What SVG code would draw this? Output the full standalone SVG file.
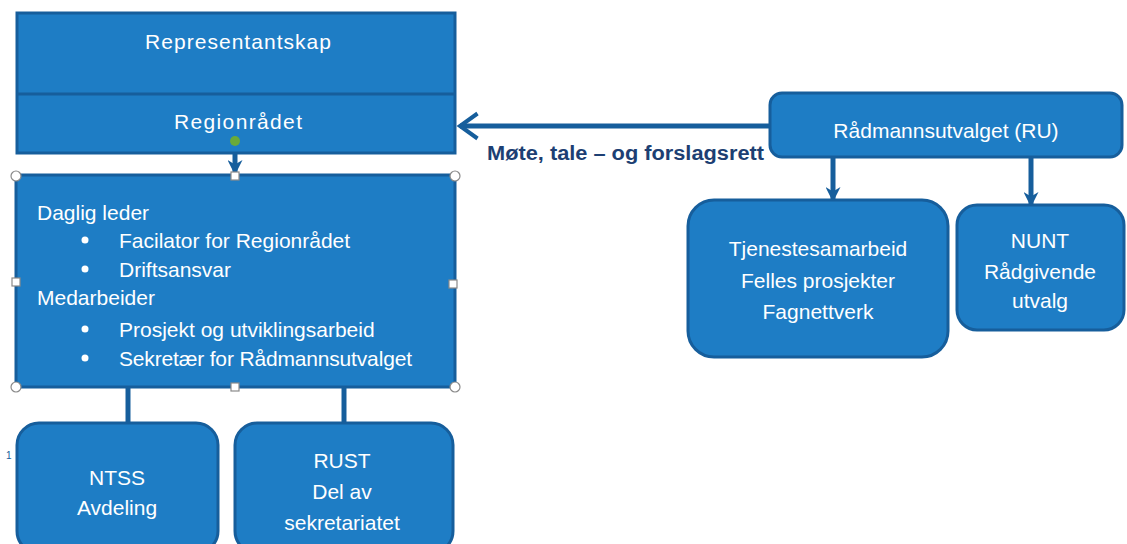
<svg xmlns="http://www.w3.org/2000/svg" width="1127" height="544" viewBox="0 0 1127 544">
<defs>
<style>
.box{fill:#1E7DC5;stroke:#165E9C;stroke-width:3}
.t{font-family:"Liberation Sans",Arial,sans-serif;font-size:21px;fill:#FFFFFF}
.c{text-anchor:middle}
.conn{stroke:#165E9C;stroke-width:5;fill:none}
.h{fill:#FFFFFF;stroke:#8A8A8A;stroke-width:1.2}
.lbl{font-family:"Liberation Sans",Arial,sans-serif;font-size:20px;font-weight:bold;fill:#1D3F73}
</style>
<marker id="ah" viewBox="0 0 10 10" refX="8" refY="5" markerWidth="3" markerHeight="3" orient="auto" markerUnits="strokeWidth">
<path d="M0,0 L10,5 L0,10 L3,5 z" fill="#165E9C"/>
</marker>
<marker id="open" viewBox="0 0 12 12" refX="10" refY="6" markerWidth="6" markerHeight="6" orient="auto" markerUnits="strokeWidth">
<path d="M3,1 L10,6 L3,11" fill="none" stroke="#165E9C" stroke-width="1.6"/>
</marker>
</defs>
<rect width="1127" height="544" fill="#FFFFFF"/>

<g id="connectors">
<line class="conn" x1="235" y1="143" x2="235" y2="172" marker-end="url(#ah)"/>
<line class="conn" x1="770" y1="126" x2="460" y2="126" marker-end="url(#open)"/>
<line class="conn" x1="128" y1="388" x2="128" y2="423"/>
<line class="conn" x1="344" y1="388" x2="344" y2="423"/>
<line class="conn" x1="833" y1="157" x2="833" y2="199" marker-end="url(#ah)"/>
<line class="conn" x1="1031" y1="157" x2="1031" y2="204" marker-end="url(#ah)"/>
<text class="lbl" x="487" y="160" textLength="277" lengthAdjust="spacingAndGlyphs">Møte, tale – og forslagsrett</text>
</g>

<g id="representantskap">
<rect class="box" x="17" y="13" width="438" height="140"/>
<line x1="17" y1="94" x2="455" y2="94" stroke="#165E9C" stroke-width="3"/>
<text class="t c" x="238" y="49" textLength="186" lengthAdjust="spacing">Representantskap</text>
<text class="t c" x="238" y="129" textLength="128" lengthAdjust="spacing">Regionrådet</text>
<circle cx="235" cy="141" r="5" fill="#6AAA3A"/>
</g>

<g id="daglig-leder">
<rect class="box" x="16" y="175" width="439" height="212"/>
<text class="t" x="37" y="220">Daglig leder</text>
<circle cx="85" cy="240" r="3.5" fill="#FFFFFF"/>
<text class="t" x="119" y="248">Facilator for Regionrådet</text>
<circle cx="85" cy="269" r="3.5" fill="#FFFFFF"/>
<text class="t" x="119" y="277">Driftsansvar</text>
<text class="t" x="37" y="305">Medarbeider</text>
<circle cx="85" cy="329" r="3.5" fill="#FFFFFF"/>
<text class="t" x="119" y="337">Prosjekt og utviklingsarbeid</text>
<circle cx="85" cy="358" r="3.5" fill="#FFFFFF"/>
<text class="t" x="119" y="366" textLength="293" lengthAdjust="spacing">Sekretær for Rådmannsutvalget</text>
<circle class="h" cx="16" cy="176" r="5"/>
<circle class="h" cx="455" cy="176" r="5"/>
<circle class="h" cx="16" cy="387" r="5"/>
<circle class="h" cx="455" cy="387" r="5"/>
<rect class="h" x="231" y="172" width="8" height="8"/>
<rect class="h" x="231" y="383" width="8" height="8"/>
<rect class="h" x="12" y="278" width="8" height="8"/>
<rect class="h" x="449" y="280" width="8" height="8"/>
</g>

<g id="ntss">
<rect class="box" x="17" y="423" width="201" height="130" rx="22"/>
<text class="t c" x="117" y="485">NTSS</text>
<text class="t c" x="117" y="515">Avdeling</text>
<text x="6" y="459" font-family="Liberation Sans,Arial,sans-serif" font-size="10" fill="#165E9C">1</text>
</g>

<g id="rust">
<rect class="box" x="235" y="423" width="218" height="130" rx="22"/>
<text class="t c" x="342" y="468">RUST</text>
<text class="t c" x="342" y="499">Del av</text>
<text class="t c" x="342" y="530">sekretariatet</text>
</g>

<g id="radmannsutvalget">
<rect class="box" x="770" y="93" width="352" height="64" rx="12"/>
<text class="t c" x="946" y="138">Rådmannsutvalget (RU)</text>
</g>

<g id="tjenestesamarbeid">
<rect class="box" x="688" y="200" width="260" height="157" rx="26"/>
<text class="t c" x="818" y="256">Tjenestesamarbeid</text>
<text class="t c" x="818" y="288">Felles prosjekter</text>
<text class="t c" x="818" y="319">Fagnettverk</text>
</g>

<g id="nunt">
<rect class="box" x="957" y="205" width="167" height="125" rx="20"/>
<text class="t c" x="1040" y="248">NUNT</text>
<text class="t c" x="1040" y="279">Rådgivende</text>
<text class="t c" x="1040" y="308">utvalg</text>
</g>
</svg>
